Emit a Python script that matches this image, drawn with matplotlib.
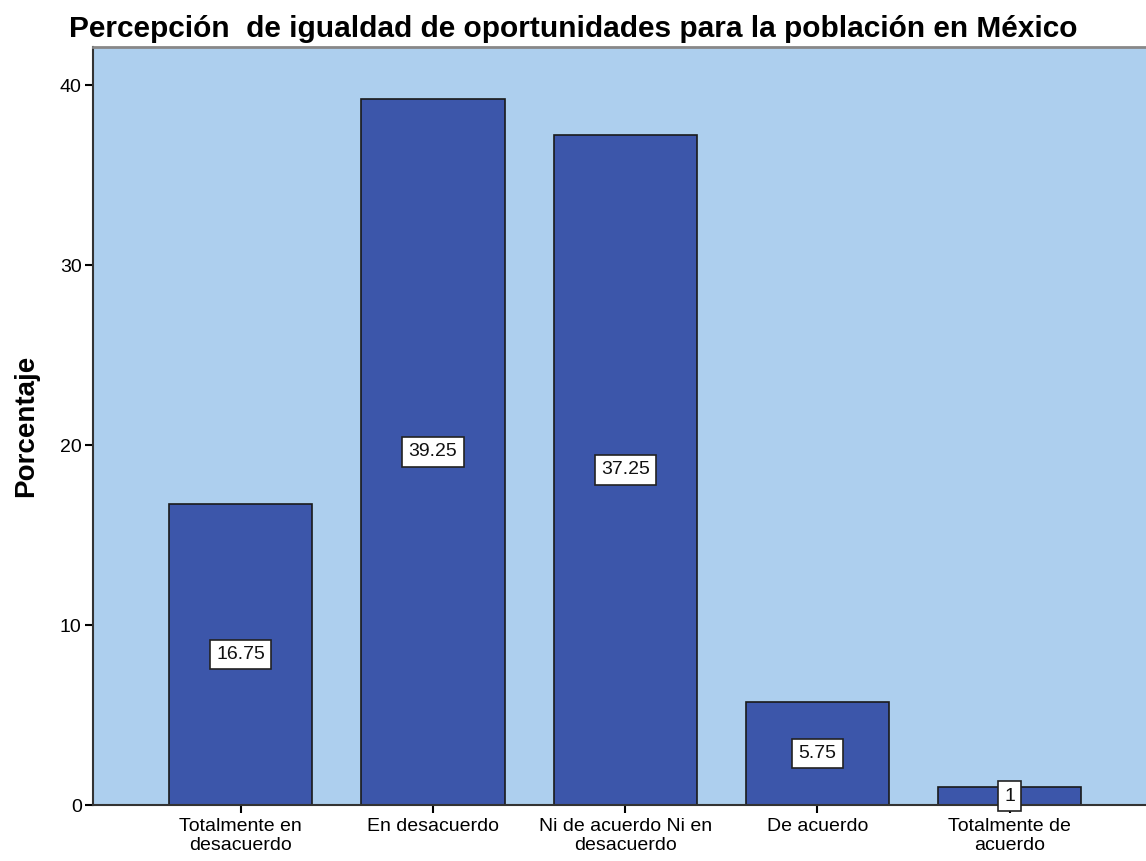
import matplotlib.pyplot as plt

# --- Datos ---
categorias = ["Totalmente en\ndesacuerdo", "En desacuerdo", "Ni de acuerdo Ni en\ndesacuerdo",
              "De acuerdo", "Totalmente de\nacuerdo"]
porcentajes = [16.75, 39.25, 37.25, 5.75, 1]
etiquetas = ["16.75", "39.25", "37.25", "5.75", "1"]

plt.rcParams['font.family'] = ['Liberation Sans', 'DejaVu Sans']

fig = plt.figure(figsize=(11.46, 8.61), dpi=100)
ax = fig.add_axes([0.081, 0.065, 0.919, 0.88])
ax.set_facecolor('#ADCFEE')

x = list(range(len(categorias)))
ax.bar(x, porcentajes, width=0.745, color='#3C56AA', edgecolor='#1a1a1a', linewidth=1.2, zorder=2)

# Etiquetas de valor en el centro de cada barra
for xi, v, t in zip(x, porcentajes, etiquetas):
    ax.text(xi, v / 2, t, ha='center', va='center', fontsize=14, color='#111111', zorder=4,
            bbox=dict(boxstyle='square,pad=0.32', facecolor='white', edgecolor='#222222', linewidth=1.2))

ax.set_xlim(-0.77, 4.71)
ax.set_ylim(0, 42.1)
ax.set_yticks([0, 10, 20, 30, 40])
ax.set_xticks(x)
ax.set_xticklabels(categorias, fontsize=14, linespacing=1.2)
ax.tick_params(axis='y', labelsize=14, length=6, width=1.5, direction='out', pad=2)
ax.tick_params(axis='x', length=6, width=1.5, direction='out', pad=3)

ax.spines['right'].set_visible(False)
ax.spines['top'].set_color('#888888')
ax.spines['top'].set_linewidth(2)
for s in ['left', 'bottom']:
    ax.spines[s].set_color('#333333')
    ax.spines[s].set_linewidth(1.5)

ax.set_ylabel("Porcentaje", fontsize=20, fontweight='bold')
ax.yaxis.set_label_coords(-0.051, 0.5)
fig.suptitle("Percepción  de igualdad de oportunidades para la población en México",
             fontsize=21.5, fontweight='bold', x=0.5, y=0.982, va='top')

fig.savefig("out.png", dpi=100)
